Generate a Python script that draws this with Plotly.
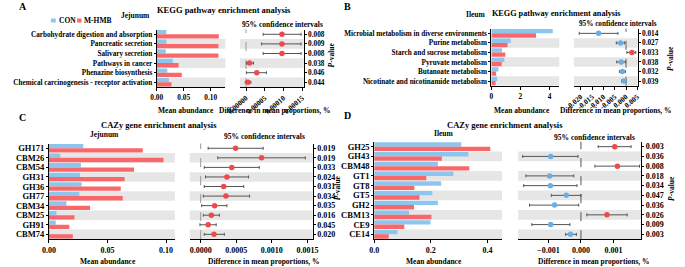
import plotly.graph_objects as go

# ---------------- data ----------------
kegg_jej_cats = ["Carbohydrate digestion and absorption", "Pancreatic secretion", "Salivary secretion",
                 "Pathways in cancer", "Phenazine biosynthesis", "Chemical carcinogenesis - receptor activation"]
kegg_jej_con = [0.0179, 0.0179, 0.0167, 0.0298, 0.0196, 0.0226]
kegg_jej_mhmb = [0.1149, 0.1143, 0.1143, 0.0405, 0.0464, 0.0274]
kegg_jej_diff = [0.0000957, 0.0000957, 0.0000957, 0.0000095, 0.0000285, 0.0000052]
kegg_jej_lo = [0.0000457, 0.0000414, 0.0000457, 0.000001, 0.000001, -0.000002]
kegg_jej_hi = [0.0001467, 0.0001467, 0.0001467, 0.00002, 0.0000543, 0.000013]
kegg_jej_p = ["0.008", "0.009", "0.008", "0.038", "0.046", "0.044"]

kegg_ile_cats = ["Microbial metabolism in diverse environments", "Purine metabolism",
                 "Starch and sucrose metabolism", "Pyruvate metabolism", "Butanoate metabolism",
                 "Nicotinate and nicotinamide metabolism"]
kegg_ile_con = [4.22, 1.33, 0.73, 0.89, 0.49, 0.40]
kegg_ile_mhmb = [3.07, 1.11, 0.96, 0.71, 0.33, 0.29]
kegg_ile_diff = [-0.01214, -0.0024, 0.0026, -0.0021, -0.0016, -0.0009]
kegg_ile_lo = [-0.0207, -0.0043, 0.0004, -0.0041, -0.0029, -0.0020]
kegg_ile_hi = [-0.0036, -0.0006, 0.0043, -0.0003, -0.0003, 0.0001]
kegg_ile_p = ["0.014", "0.027", "0.033", "0.038", "0.032", "0.039"]

cazy_jej_cats = ["GH171", "CBM26", "CBM54", "GH31", "GH36", "GH77", "CBM34", "CBM25", "GH91", "CBM74"]
cazy_jej_con = [0.0293, 0.0097, 0.0273, 0.0265, 0.0279, 0.0260, 0.0149, 0.0064, 0.0058, 0.0008]
cazy_jej_mhmb = [0.0801, 0.0978, 0.0727, 0.0646, 0.0613, 0.0630, 0.0351, 0.0218, 0.0174, 0.0204]
cazy_jej_diff = [0.00049, 0.000855, 0.000437, 0.000368, 0.000323, 0.000355, 0.000196, 0.00015, 0.000105, 0.000187]
cazy_jej_lo = [0.000105, 0.00024, 0.00005, 0.000068, 0.00005, 0.000037, 0.000014, 0.000037, -0.00001, 0.00005]
cazy_jej_hi = [0.000878, 0.00147, 0.000823, 0.000673, 0.000605, 0.000687, 0.000368, 0.000264, 0.000218, 0.000332]
cazy_jej_p = ["0.019", "0.019", "0.033", "0.024", "0.031", "0.034", "0.035", "0.016", "0.045", "0.020"]

cazy_ile_cats = ["GH25", "GH43", "CBM48", "GT1", "GT8", "GT5", "GH2", "CBM13", "CE9", "CE14"]
cazy_ile_con = [0.3074, 0.3326, 0.2251, 0.2800, 0.2366, 0.2057, 0.2251, 0.1234, 0.1989, 0.0823]
cazy_ile_mhmb = [0.4103, 0.2389, 0.3360, 0.1840, 0.1417, 0.1600, 0.1406, 0.2023, 0.1063, 0.0514]
cazy_ile_diff = [0.00104, -0.00093, 0.00112, -0.00096, -0.00094, -0.00045, -0.00081, 0.00080, -0.00093, -0.00032]
cazy_ile_lo = [0.00053, -0.00179, 0.00043, -0.00169, -0.00176, -0.00091, -0.00158, 0.00018, -0.00151, -0.00047]
cazy_ile_hi = [0.00154, -0.00009, 0.00180, -0.00022, -0.00012, 0.0, -0.00007, 0.00142, -0.00034, -0.00014]
cazy_ile_p = ["0.003", "0.036", "0.008", "0.018", "0.034", "0.047", "0.036", "0.026", "0.009", "0.003"]

# ---------------- style ----------------
W, H = 685, 267
FONT = "Liberation Serif, Times New Roman, serif"
C_CON = "#8cc6ee"
C_MHMB = "#f8686a"
D_RED = "#ee4a4c"
D_BLUE = "#6aaee3"
SHADE = "#e6e6e6"


def fx(px):
    return px / W


def fy(py):
    return 1 - py / H


fig = go.Figure()
shapes = []
annotations = []

panels = [
    dict(cats=kegg_jej_cats, con=kegg_jej_con, mh=kegg_jej_mhmb, d=kegg_jej_diff, lo=kegg_jej_lo,
         hi=kegg_jej_hi, p=kegg_jej_p, bx=(147, 217.7), cx=(232.7, 298.3), yd=(29.5, 87.1),
         br=[0, 0.127], bt=[0, 0.05, 0.10], btt=["0.00", "0.05", "0.10"],
         cr=[-0.0000163, 0.0001534], ct=[0, 0.00005, 0.0001, 0.00015],
         ctt=["0.00000", "0.00005", "0.00010", "0.00015"], cf=7.2, tf=7.3, ang=-40, dash="#999999"),
    dict(cats=kegg_ile_cats, con=kegg_ile_con, mh=kegg_ile_mhmb, d=kegg_ile_diff, lo=kegg_ile_lo,
         hi=kegg_ile_hi, p=kegg_ile_p, bx=(491.7, 561.7), cx=(576.7, 642.3), yd=(28.6, 85.8),
         br=[0, 4.67], bt=[0, 2, 4], btt=["0", "2", "4"],
         cr=[-0.02308, 0.0051], ct=[-0.02, -0.015, -0.01, -0.005, 0, 0.005],
         ctt=["-0.020", "-0.015", "-0.010", "-0.005", "0.000", "0.005"], cf=7.2, tf=7.3, ang=-40,
         dash="#666666"),
    dict(cats=cazy_jej_cats, con=cazy_jej_con, mh=cazy_jej_mhmb, d=cazy_jej_diff, lo=cazy_jej_lo,
         hi=cazy_jej_hi, p=cazy_jej_p, bx=(36, 165.7), cx=(181, 307.7), yd=(143.5, 239.1),
         br=[0, 0.1075], bt=[0, 0.05, 0.10], btt=["0.00", "0.05", "0.10"],
         cr=[-0.000154, 0.001574], ct=[0, 0.0005, 0.001, 0.0015],
         ctt=["0.0000", "0.0005", "0.0010", "0.0015"], cf=8.5, tf=8, ang=0, dash="#999999"),
    dict(cats=cazy_ile_cats, con=cazy_ile_con, mh=cazy_ile_mhmb, d=cazy_ile_diff, lo=cazy_ile_lo,
         hi=cazy_ile_hi, p=cazy_ile_p, bx=(371, 502.7), cx=(519.3, 646), yd=(141.8, 239.2),
         br=[0, 0.4516], bt=[0, 0.2, 0.4], btt=["0.0", "0.2", "0.4"],
         cr=[-0.00193, 0.00185], ct=[-0.001, 0, 0.001],
         ctt=["\u22120.001", "0.000", "0.001"], cf=8.5, tf=8, ang=0, dash="#555555"),
]

layout_axes = {}
for k, pn in enumerate(panels):
    ib = 2 * k + 1
    ic = 2 * k + 2
    xb, yb = f"x{ib if ib > 1 else ''}", f"y{ib if ib > 1 else ''}"
    xc, yc = f"x{ic}", f"y{ic}"
    n = len(pn["cats"])
    idx = list(range(n))
    ydom = [fy(pn["yd"][1]), fy(pn["yd"][0])]

    fig.add_trace(go.Bar(y=idx, x=pn["con"], orientation="h", marker=dict(color=C_CON, line=dict(width=0)),
                         xaxis=xb, yaxis=yb, showlegend=False, name="CON"))
    fig.add_trace(go.Bar(y=idx, x=pn["mh"], orientation="h", marker=dict(color=C_MHMB, line=dict(width=0)),
                         xaxis=xb, yaxis=yb, showlegend=False, name="M-HMB"))

    colors = [D_RED if v > 0 else D_BLUE for v in pn["d"]]
    plus = [h - v for h, v in zip(pn["hi"], pn["d"])]
    minus = [v - l for v, l in zip(pn["d"], pn["lo"])]
    fig.add_trace(go.Scatter(x=pn["d"], y=idx, mode="markers", xaxis=xc, yaxis=yc, showlegend=False,
                             marker=dict(size=5.5, color=colors, line=dict(width=0)),
                             error_x=dict(type="data", array=plus, arrayminus=minus, color="#555555",
                                          thickness=1, width=1.5)))

    tickfont = dict(family=FONT, size=pn["tf"], color="black", weight="bold")
    catfont = dict(family=FONT, size=pn["cf"], color="black", weight="bold")
    yr = [n - 0.5, -0.5]
    layout_axes["xaxis" + (str(ib) if ib > 1 else "")] = dict(
        domain=[fx(pn["bx"][0]), fx(pn["bx"][1])], anchor=yb, range=pn["br"], tickvals=pn["bt"],
        ticktext=pn["btt"], showline=True, linecolor="black", linewidth=1, ticks="outside", ticklen=3,
        tickcolor="black", showgrid=False, zeroline=False, tickfont=tickfont, fixedrange=True)
    layout_axes["yaxis" + (str(ib) if ib > 1 else "")] = dict(
        domain=ydom, anchor=xb, range=yr, tickvals=idx, ticktext=pn["cats"], showline=True,
        linecolor="black", linewidth=1, ticks="outside", ticklen=2, tickcolor="black", showgrid=False,
        zeroline=False, tickfont=catfont, ticklabelstandoff=0)
    layout_axes[f"xaxis{ic}"] = dict(
        domain=[fx(pn["cx"][0]), fx(pn["cx"][1])], anchor=yc, range=pn["cr"], tickvals=pn["ct"],
        ticktext=pn["ctt"], tickangle=pn["ang"], showline=True, linecolor="black", linewidth=1,
        ticks="outside", ticklen=3, tickcolor="black", showgrid=False, zeroline=False, tickfont=tickfont)
    layout_axes[f"yaxis{ic}"] = dict(
        domain=ydom, anchor=xc, side="right", range=yr, tickvals=idx, ticktext=pn["p"], showline=True,
        linecolor="black", linewidth=1, ticks="outside", ticklen=2, tickcolor="black", showgrid=False,
        zeroline=False, tickfont=dict(family=FONT, size=pn["tf"], color="black", weight="bold"))

    for i in range(1, n, 2):
        for xr, yr_ in ((xb, yb), (xc, yc)):
            shapes.append(dict(type="rect", xref=f"{xr} domain", yref=yr_, x0=0, x1=1, y0=i - 0.5,
                               y1=i + 0.5, fillcolor=SHADE, line=dict(width=0), layer="below"))
    shapes.append(dict(type="line", xref=xc, yref=f"{yc} domain", x0=0, x1=0, y0=0, y1=1,
                       line=dict(color=pn["dash"], width=1, dash="dash"), layer="below"))


def txt(x, y, s, size=8, anchor="center", angle=0, weight="bold"):
    annotations.append(dict(x=fx(x), y=fy(y), xref="paper", yref="paper", text=s, showarrow=False,
                            xanchor=anchor, yanchor="middle", textangle=angle,
                            font=dict(family=FONT, size=size, color="black", weight=weight)))


txt(3, 6, "A", 10, "left")
txt(338, 6, "B", 10, "left")
txt(3, 118, "C", 10, "left")
txt(338, 116, "D", 10, "left")
txt(216, 10, "KEGG pathway enrichment analysis", 8.5)
txt(558.7, 13.5, "KEGG pathway enrichment analysis", 8.2)
txt(149.5, 125, "CAZy gene enrichment analysis", 8.5)
txt(505.7, 125, "CAZy gene enrichment analysis", 8.5)
txt(125, 15, "Jejunum", 7.5)
txt(476, 14.3, "Ileum", 7.5)
txt(93, 134, "Jejunum", 7.5)
txt(442.5, 133, "Ileum", 7.5)
txt(277, 24, "95% confidence intervals", 7.5)
txt(621.7, 24, "95% confidence intervals", 7.2)
txt(258, 136.7, "95% confidence intervals", 7.5)
txt(598, 137, "95% confidence intervals", 7.5)
for xm, xd, yy in ((177.5, 269, 110), (523.7, 620, 110), (97, 258, 261.7), (433, 597, 261.7)):
    txt(xm, yy, "Mean abundance", 7.5)
    txt(xd, yy, "Difference in mean proportions, %", 7.5)
for xx, yy in ((327, 55), (676.7, 58), (333, 188), (676.7, 188)):
    txt(xx, yy, "<i>P</i>-value", 7.5, angle=-90)

shapes.append(dict(type="rect", xref="paper", yref="paper", x0=fx(38), x1=fx(43), y0=fy(22.5), y1=fy(18.5),
                   fillcolor=C_CON, line=dict(width=0)))
shapes.append(dict(type="rect", xref="paper", yref="paper", x0=fx(65), x1=fx(69.5), y0=fy(22.5), y1=fy(18.5),
                   fillcolor=C_MHMB, line=dict(width=0)))
txt(44, 20.5, "CON", 7.5, "left")
txt(70.5, 20.5, "M-HMB", 7.5, "left")

fig.update_layout(
    width=W, height=H, margin=dict(l=0, r=0, t=0, b=0), autosize=False,
    paper_bgcolor="white", plot_bgcolor="rgba(0,0,0,0)",
    barmode="group", bargap=0.1, bargroupgap=0,
    font=dict(family=FONT, size=8, color="black"),
    shapes=shapes, annotations=annotations, showlegend=False,
    **layout_axes,
)

fig.write_html("out.html", config={"displayModeBar": False},
               post_script="document.body.style.margin='0';document.body.style.overflow='hidden';")
